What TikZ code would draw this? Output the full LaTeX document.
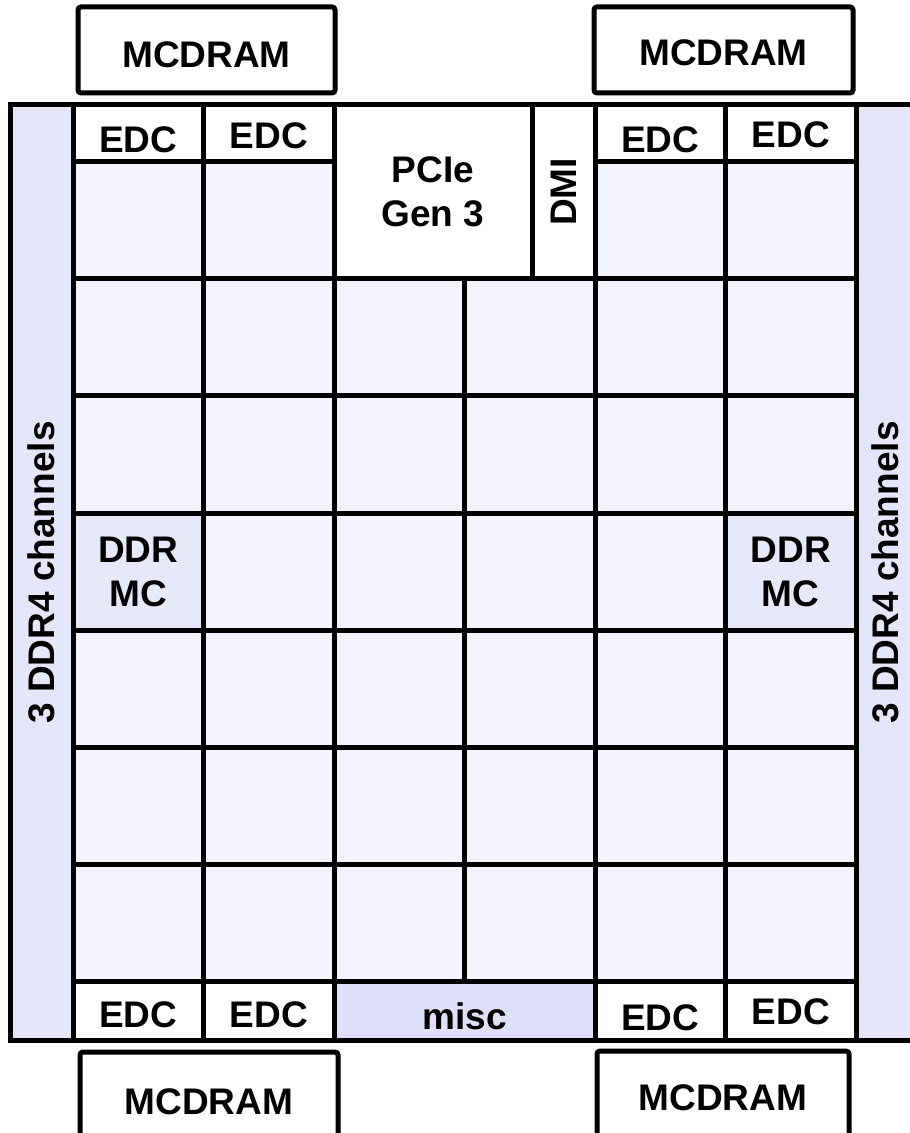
\documentclass[tikz,border=0pt]{standalone}
\usepackage{fontspec}
\setmainfont{Liberation Sans}
\usepackage{xcolor}
\usetikzlibrary{positioning}
\definecolor{tilebg}{RGB}{244,244,254}
\definecolor{stripbg}{RGB}{230,230,251}
\definecolor{mcbg}{RGB}{232,232,251}
\definecolor{miscbg}{RGB}{223,223,250}
\newcommand{\dropby}[2]{\raisebox{#1}[\height][0pt]{#2}}
\tikzset{
  tile/.style={
    rectangle, draw=black, fill=tilebg, line width=2.5pt,
    minimum width=65.25pt, minimum height=58.5pt, inner sep=0pt,
    align=center, font=\fontsize{18.5}{22}\selectfont\bfseries
  },
  edcblock/.style={tile, fill=white, minimum height=28.5pt},
  ioblock/.style={tile, fill=white},
  mcblock/.style={tile, fill=mcbg},
  memblock/.style={
    rectangle, draw=black, fill=white, line width=2.5pt,
    rounded corners=1.5pt, minimum height=43pt, inner sep=0pt,
    font=\fontsize{18.5}{22}\selectfont\bfseries
  },
  stripblock/.style={
    rectangle, draw=black, fill=stripbg, line width=2.5pt,
    rotate=90, minimum width=467.5pt, inner sep=0pt,
    font=\fontsize{18.5}{22}\selectfont\bfseries
  },
}

\begin{document}
\begin{tikzpicture}[x=0.5pt, y=-0.5pt]

		\useasboundingbox (0,0) rectangle (909,1133);

		%% ── DDR4 side strips ──
		\node[stripblock, minimum height=31.5pt] (ddr-l) at (41.5,572.5)
		{3 DDR4 channels};
		\node[stripblock, minimum height=29.5pt] (ddr-r) at (885.5,572.5)
		{3 DDR4 channels};

		%% ── Tile grid ──
		\foreach \r in {2,3,5,6,7}
		\foreach \c in {1,...,6}
		\node[tile] (t-\r-\c) at ({73+130.5*(\c-0.5)},{162+117*(\r-0.5)}) {};
		\foreach \c in {2,...,5}
		\node[tile] (t-4-\c) at ({73+130.5*(\c-0.5)},{162+117*3.5}) {};
		\foreach \c in {1,2,5,6}
		\node[tile] (t-1-\c) at ({73+130.5*(\c-0.5)},{162+117*0.5}) {};

		%% ── Memory controllers ──
		\node[mcblock] (mc-l) at ({73+130.5*0.5},{162+117*3.5}) {DDR\\MC};
		\node[mcblock] (mc-r) at ({73+130.5*5.5},{162+117*3.5}) {DDR\\MC};

		%% ── I/O ──
		\node[ioblock, minimum width=99pt, minimum height=87pt]
		(pcie) at (433,192) {PCIe\\Gen 3};
		\node[ioblock, rotate=90, minimum width=87pt, minimum height=31.5pt]
		(dmi) at (563.5,192) {DMI};

		%% ── EDC rows ──
		\foreach \c/\dy in {1/-3pt,2/-1pt,5/-3pt,6/-0.5pt}
		\node[edcblock] (edc-t-\c) at ({73+130.5*(\c-0.5)},133.5)
		{\dropby{\dy}{EDC}};
		\foreach \c/\dy in {1/-2pt,2/-2pt,5/-3.5pt,6/-0.5pt}
		\node[edcblock, minimum height=29.5pt] (edc-b-\c)
		at ({73+130.5*(\c-0.5)},1010.5) {\dropby{\dy}{EDC}};
		\node[edcblock, fill=miscbg, minimum width=130.5pt, minimum height=29.5pt]
		(misc) at (464.5,1010.5) {\dropby{-3pt}{misc}};

		%% ── MCDRAM ──
		\node[memblock, minimum width=128.5pt] (mem-tl) at (206.5,50)
		{\dropby{-2.5pt}{MCDRAM}};
		\node[memblock, minimum width=129.5pt] (mem-tr) at (723.5,50)
		{\dropby{-1.5pt}{MCDRAM}};
		\node[memblock, minimum width=129pt, minimum height=46.5pt]
		(mem-bl) at (209,1098.5) {\dropby{-1.5pt}{MCDRAM}};
		\node[memblock, minimum width=126pt, minimum height=47pt]
		(mem-br) at (723,1098) {MCDRAM};

	\end{tikzpicture}
\end{document}
